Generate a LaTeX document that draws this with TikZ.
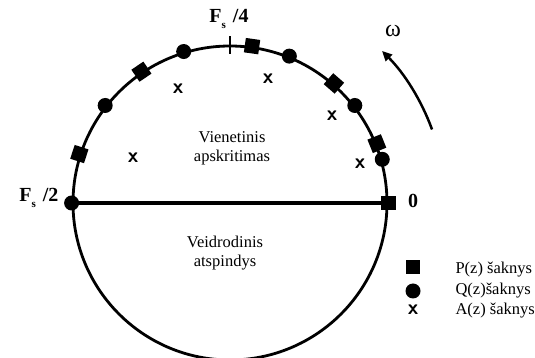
\documentclass[tikz,border=0pt]{standalone}
\usepackage{fontspec}
\setmainfont{Liberation Serif}
\usetikzlibrary{arrows.meta}
\newcommand{\Fs}[1]{{\fontsize{20}{20}\selectfont\bfseries F}\raisebox{-0.8ex}{\fontsize{11}{11}\selectfont\bfseries s}\hspace{7pt}{\fontsize{20}{20}\selectfont\bfseries #1}}
\begin{document}
\begin{tikzpicture}[x=1pt,y=1pt,>={Triangle[length=10pt,width=9pt]},every node/.style={font=\fontsize{16.5}{19}\selectfont}]
\tikzset{proot/.style={fill=black,rectangle,minimum size=14.5pt,inner sep=0pt,rotate=#1},
  qroot/.style={fill=black,circle,minimum size=15pt,inner sep=0pt},
  aroot/.style={inner sep=0pt,font=\fontsize{21}{21}\selectfont\sffamily\bfseries}}
\useasboundingbox (0,0) rectangle (535,358);
\node[circle,draw,line width=2.8pt,minimum size=314pt,inner sep=0pt] (uc) at (230,155) {};
\draw[line width=3.2pt] (uc.west) -- (uc.east);
\draw[line width=1.8pt] (uc.90) ++(0,-9) coordinate (tk) -- ++(0,18);
% roots on the unit circle
\foreach \a [count=\i] in {0,22,49,82,124,162} \node[proot=\a] (p\i) at (uc.\a) {};
\foreach \a [count=\i] in {16,38,68,107,142,180} \node[qroot] (q\i) at (uc.\a) {};
\foreach \x/\y [count=\i] in {178/269,268/279,133/200,332/242,360/194} \node[aroot] (a\i) at (\x,\y) {x};
\node (in) at (232,210) [align=center] {Vienetinis\\apskritimas};
\node (out) at (225,105) [align=center] {Veidrodinis\\atspindys};
\node (f4) at (229,339) {\Fs{/4}};
\node[anchor=east] (f2) at (62,160) {\Fs{/2}};
\node (f0) at (413,157) {\fontsize{20}{20}\selectfont\bfseries 0};
\node (om) at (393,327) {\fontsize{24}{24}\selectfont ω};
\coordinate (w1) at ([shift={(20:215)}]uc.center);
\draw[->,line width=2.5pt] (w1) arc[start angle=20,end angle=45,radius=215];
% legend
\node[proot=0] (lp) at (413,91) {};
\node[qroot] (lq) at (413,67) {};
\node[aroot] (la) at (413,48) {x};
\node[anchor=west] (tp) at (452,88) {P(z) šaknys};
\node[anchor=west] (tq) at (452,67) {Q(z)šaknys};
\node[anchor=west] (ta) at (452,47) {A(z) šaknys};
\end{tikzpicture}
\end{document}
